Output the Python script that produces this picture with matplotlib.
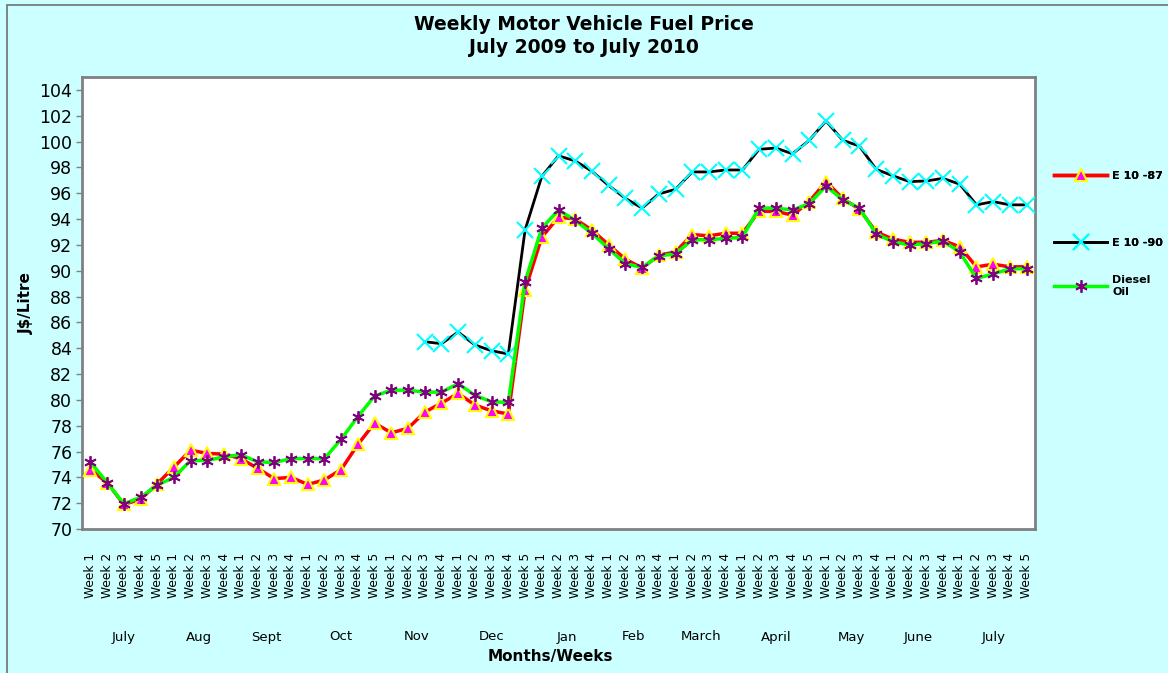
"""Weekly motor vehicle fuel price, July 2009 to July 2010"""
import numpy as np
import matplotlib.pyplot as plt
from matplotlib.patches import Rectangle
from matplotlib.transforms import blended_transform_factory

# Months and number of weeks in each
months = ["July", "Aug", "Sept", "Oct", "Nov", "Dec", "Jan", "Feb",
          "March", "April", "May", "June", "July"]
weeks_per_month = [5, 4, 4, 5, 4, 5, 4, 4, 4, 5, 4, 4, 5]

# J$/Litre
e10_87 = [74.6, 73.6, 71.9, 72.3, 73.5,
          74.8, 76.1, 75.85, 75.8,
          75.45, 74.7, 73.9, 74.0,
          73.45, 73.8, 74.6, 76.55, 78.2,
          77.45, 77.8, 79.05, 79.75,
          80.5, 79.6, 79.15, 78.9, 88.5,
          92.6, 94.15, 94.0, 93.15,
          92.0, 90.9, 90.2, 91.2,
          91.45, 92.8, 92.7, 92.9,
          92.9, 94.6, 94.6, 94.3, 95.35,
          96.9, 95.6, 94.75, 93.0,
          92.45, 92.2, 92.2, 92.35,
          91.85, 90.3, 90.5, 90.3, 90.3]

nan = np.nan
e10_90 = [nan, nan, nan, nan, nan,
          nan, nan, nan, nan,
          nan, nan, nan, nan,
          nan, nan, nan, nan, nan,
          nan, nan, 84.5, 84.35,
          85.25, 84.25, 83.8, 83.55, 93.15,
          97.3, 98.9, 98.5, 97.7,
          96.6, 95.6, 94.85, 95.95,
          96.3, 97.65, 97.65, 97.8,
          97.8, 99.4, 99.5, 99.05, 100.1,
          101.6, 100.1, 99.65, 97.85,
          97.35, 96.9, 96.95, 97.15,
          96.7, 95.1, 95.35, 95.1, 95.1]

diesel = [75.2, 73.6, 71.95, 72.45, 73.4,
          74.0, 75.3, 75.3, 75.6,
          75.75, 75.2, 75.15, 75.45,
          75.45, 75.45, 76.95, 78.7, 80.3,
          80.75, 80.75, 80.6, 80.6,
          81.25, 80.35, 79.85, 79.8, 89.15,
          93.3, 94.7, 93.9, 92.9,
          91.7, 90.55, 90.25, 91.15,
          91.3, 92.4, 92.4, 92.5,
          92.6, 94.85, 94.85, 94.7, 95.2,
          96.55, 95.5, 94.85, 92.85,
          92.25, 92.0, 92.1, 92.3,
          91.45, 89.4, 89.75, 90.15, 90.15]

week_labels = ["Week %d" % (k + 1) for n in weeks_per_month for k in range(n)]
x = np.arange(len(week_labels))

fig = plt.figure(figsize=(11.68, 6.73), dpi=100)
fig.patch.set_facecolor("#CCFFFF")
# outer chart frame
fig.add_artist(Rectangle((7/1168, -0.02), 1.05, 1 - 5/673 + 0.02,
                         transform=fig.transFigure, fill=False,
                         edgecolor="#707070", lw=1.2))

ax = fig.add_axes([82/1168, 1 - 529/673, (1035 - 82)/1168, (529 - 77)/673])
ax.set_facecolor("white")

l87, = ax.plot(x, e10_87, "-", color="#FF0000", lw=2.5, marker="^", ms=9,
               mfc="#FF00FF", mec="#FFFF00", mew=1.5, label="E 10 -87", zorder=3)
l90, = ax.plot(x, e10_90, "-", color="black", lw=2, marker="x", ms=11,
               mec="#00FFFF", mew=1.5, label="E 10 -90", zorder=3)
ldo, = ax.plot(x, diesel, "-", color="#00FF00", lw=2.5, marker=(6, 2, 0), ms=9,
               mec="#800080", mew=1.3, label="Diesel\nOil", zorder=4)

ax.set_xlim(-0.5, len(x) - 0.5)
ax.set_ylim(70, 105)
ax.set_yticks(np.arange(70, 105, 2))
ax.tick_params(axis="y", labelsize=12.5, length=4, width=1, color="#808080", pad=3)
ax.set_xticks(x)
ax.set_xticklabels(week_labels, rotation=90, fontsize=8.8)
ax.tick_params(axis="x", length=0, pad=17)
for s in ax.spines.values():
    s.set_color("#808080")
    s.set_linewidth(2)

# month names under the week groups
trans = blended_transform_factory(ax.transData, fig.transFigure)
start = 0
for m, n in zip(months, weeks_per_month):
    ax.text(start + (n - 1) / 2, 1 - 637/673, m, transform=trans,
            ha="center", va="center", fontsize=9.5)
    start += n

fig.text(550/1168, 1 - 657/673, "Months/Weeks", ha="center", va="center",
         fontsize=11, fontweight="bold")
fig.text(26/1168, 1 - 303/673, "J$/Litre", ha="center", va="center",
         rotation=90, fontsize=11, fontweight="bold")
fig.text(0.5, 1 - 36/673, "Weekly Motor Vehicle Fuel Price\nJuly 2009 to July 2010",
         ha="center", va="center", fontsize=13.5, fontweight="bold", linespacing=1.3)

leg_kw = dict(loc="upper left", frameon=False, prop={"size": 8, "weight": "bold"},
              handlelength=4.8, handletextpad=0.45, borderpad=0, borderaxespad=0)
leg1 = fig.legend(handles=[l87, l90], bbox_to_anchor=(1054/1168, 1 - 171/673),
                  labelspacing=5.1, **leg_kw)
fig.add_artist(leg1)
fig.legend(handles=[ldo], bbox_to_anchor=(1054/1168, 1 - 275/673), **leg_kw)

plt.savefig("out.png", dpi=100, facecolor=fig.get_facecolor())
